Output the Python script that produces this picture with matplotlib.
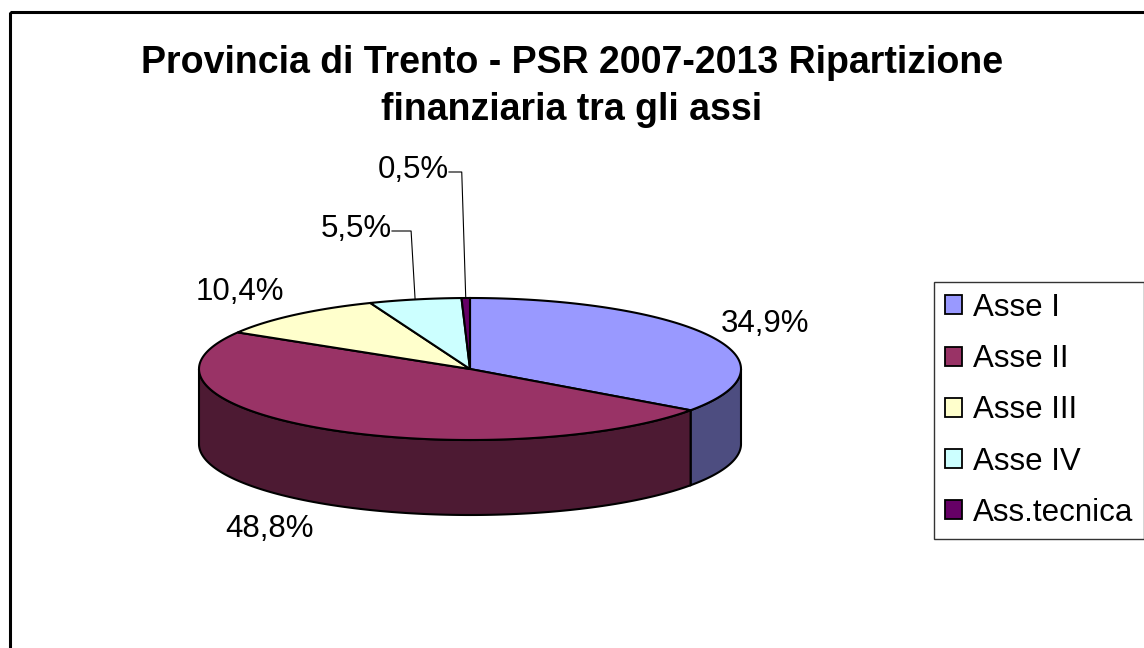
import numpy as np
import matplotlib.pyplot as plt
from matplotlib.patches import Polygon, Rectangle, Patch

plt.rcParams['font.family'] = ['Liberation Sans', 'DejaVu Sans']

labels = ["Asse I", "Asse II", "Asse III", "Asse IV", "Ass.tecnica"]
shares = [34.9, 48.8, 10.4, 5.5, 0.5]
pct_text = ["34,9%", "48,8%", "10,4%", "5,5%", "0,5%"]

top_colors = ["#9999FF", "#993366", "#FFFFCC", "#CCFFFF", "#660066"]
side_colors = ["#4D4D80", "#4D1A33", "#80806A", "#6A8080", "#330033"]

# layout in pixel space
W, H = 1144, 648
cx, cy = 470, 369
ra, rb = 271, 71
depth = 75

fig = plt.figure(figsize=(W / 100, H / 100), dpi=100)
ax = fig.add_axes([0, 0, 1, 1])
ax.set_xlim(0, W)
ax.set_ylim(H, 0)
ax.axis("off")

# outer chart border (cut at right and bottom like the original)
ax.add_patch(Rectangle((10, 12), W + 20, H + 20, fill=False, lw=2.2,
                       edgecolor="black", zorder=0))


def ell(theta_deg, dy=0.0):
    t = np.radians(theta_deg)
    return cx + ra * np.cos(t), cy - rb * np.sin(t) + dy


frac = np.array(shares) / np.sum(shares)
starts = 90 - 360 * np.concatenate([[0], np.cumsum(frac)[:-1]])
ends = starts - 360 * frac

# side walls, front half only (angles between -180 and 0)
for s, e, c in zip(starts, ends, side_colors):
    a0 = min(s, 0)
    a1 = max(e, -180)
    if a0 <= a1:
        continue
    th = np.linspace(a0, a1, 200)
    xt, yt = ell(th)
    xb, yb = ell(th[::-1], depth)
    pts = np.column_stack([np.concatenate([xt, xb]), np.concatenate([yt, yb])])
    ax.add_patch(Polygon(pts, closed=True, facecolor=c, edgecolor="black",
                         lw=1.5, zorder=2))

# top faces
for s, e, c in zip(starts, ends, top_colors):
    th = np.linspace(s, e, max(int(abs(s - e)) * 2, 10))
    xt, yt = ell(th)
    pts = np.column_stack([np.concatenate([[cx], xt]), np.concatenate([[cy], yt])])
    ax.add_patch(Polygon(pts, closed=True, facecolor=c, edgecolor="black",
                         lw=1.5, zorder=3))

# percentage labels
label_pos = [(765, 324), (270, 529), (240, 292), (356, 229), (413, 170)]
for (x, y), t in zip(label_pos, pct_text):
    ax.text(x, y, t, fontsize=22.5, ha="center", va="center", zorder=5)

# leader lines for the two small slices
for i in [3, 4]:
    x, y = label_pos[i]
    mid = (starts[i] + ends[i]) / 2
    mx, my = ell(mid)
    x0 = x + 36
    ax.plot([x0, mx - 4, mx], [y + 2, y + 2, my], color="black", lw=0.8,
            zorder=4)

fig.text(0.5, 1 - 63 / H, "Provincia di Trento - PSR 2007-2013 Ripartizione",
         ha="center", va="center", fontsize=27, fontweight="bold")
fig.text(0.5, 1 - 110 / H, "finanziaria tra gli assi",
         ha="center", va="center", fontsize=27, fontweight="bold")

handles = [Patch(facecolor=c, edgecolor="black", lw=1.3) for c in top_colors]
leg = fig.legend(handles, labels, loc="upper left",
                 bbox_to_anchor=(934 / W, 1 - 282 / H), fontsize=22.5,
                 frameon=True, fancybox=False, edgecolor="black",
                 handlelength=0.55, handleheight=0.55, handletextpad=0.35,
                 labelspacing=0.68, borderpad=0.35, borderaxespad=0)
leg.get_frame().set_linewidth(1.0)

fig.savefig("out.png", dpi=100)
